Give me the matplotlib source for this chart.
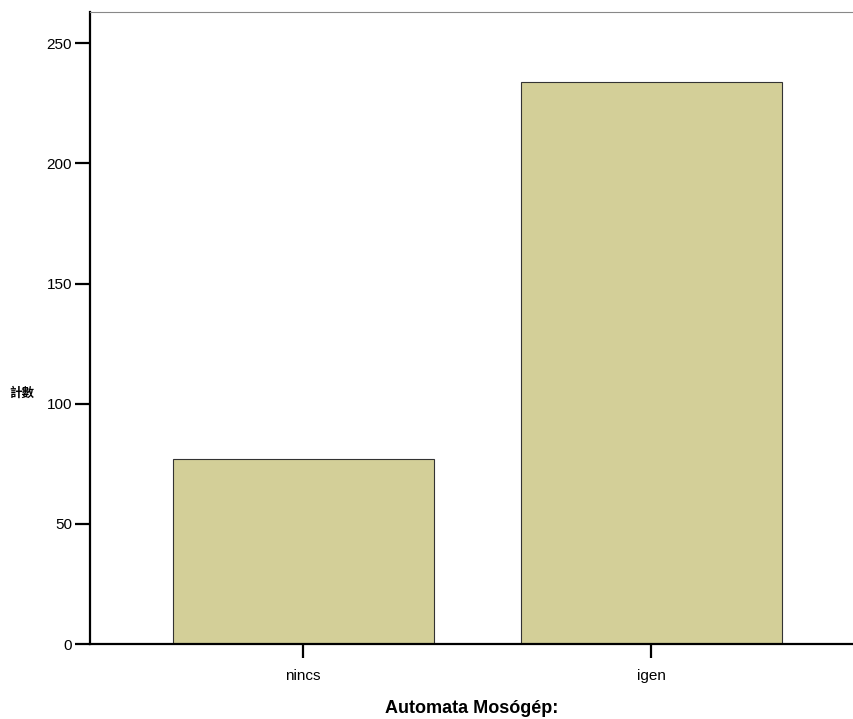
import matplotlib

matplotlib.use("Agg")
import matplotlib.pyplot as plt

categories = ["nincs", "igen"]
counts = [77, 234]
yticks = [0, 50, 100, 150, 200, 250]

plt.rcParams["font.family"] = ["Liberation Sans", "DejaVu Sans"]

fig = plt.figure(figsize=(8.54, 7.19), dpi=100)
ax = fig.add_axes([0.1054, 0.1043, 0.8946, 0.879])

x = range(len(categories))
ax.bar(x, counts, width=0.75, color="#d3cf98", edgecolor="#333333", linewidth=0.8)

ax.set_xlim(-0.612, 1.583)
ax.set_ylim(0, 263)
ax.set_yticks(yticks)
ax.set_xticks(list(x))
ax.set_xticklabels(categories, fontsize=11)
ax.tick_params(axis="y", labelsize=11, length=11, width=1.6, direction="out", pad=2)
ax.tick_params(axis="x", length=10, width=1.6, direction="out", pad=8)

ax.spines["left"].set_linewidth(1.6)
ax.spines["bottom"].set_linewidth(1.6)
ax.spines["top"].set_color("#888888")
ax.spines["top"].set_linewidth(0.8)
ax.spines["right"].set_visible(False)

ax.set_xlabel("Automata Mosógép:", fontsize=13, fontweight="bold", labelpad=12)

# y-axis label (count), drawn as a small bold mark left of the axis
fig.text(22 / 854, 1 - 393 / 719, "計數", fontsize=9, fontweight="bold",
         family=["Noto Sans CJK TC", "DejaVu Sans"], ha="center", va="center")

fig.savefig("out.png", dpi=100)
